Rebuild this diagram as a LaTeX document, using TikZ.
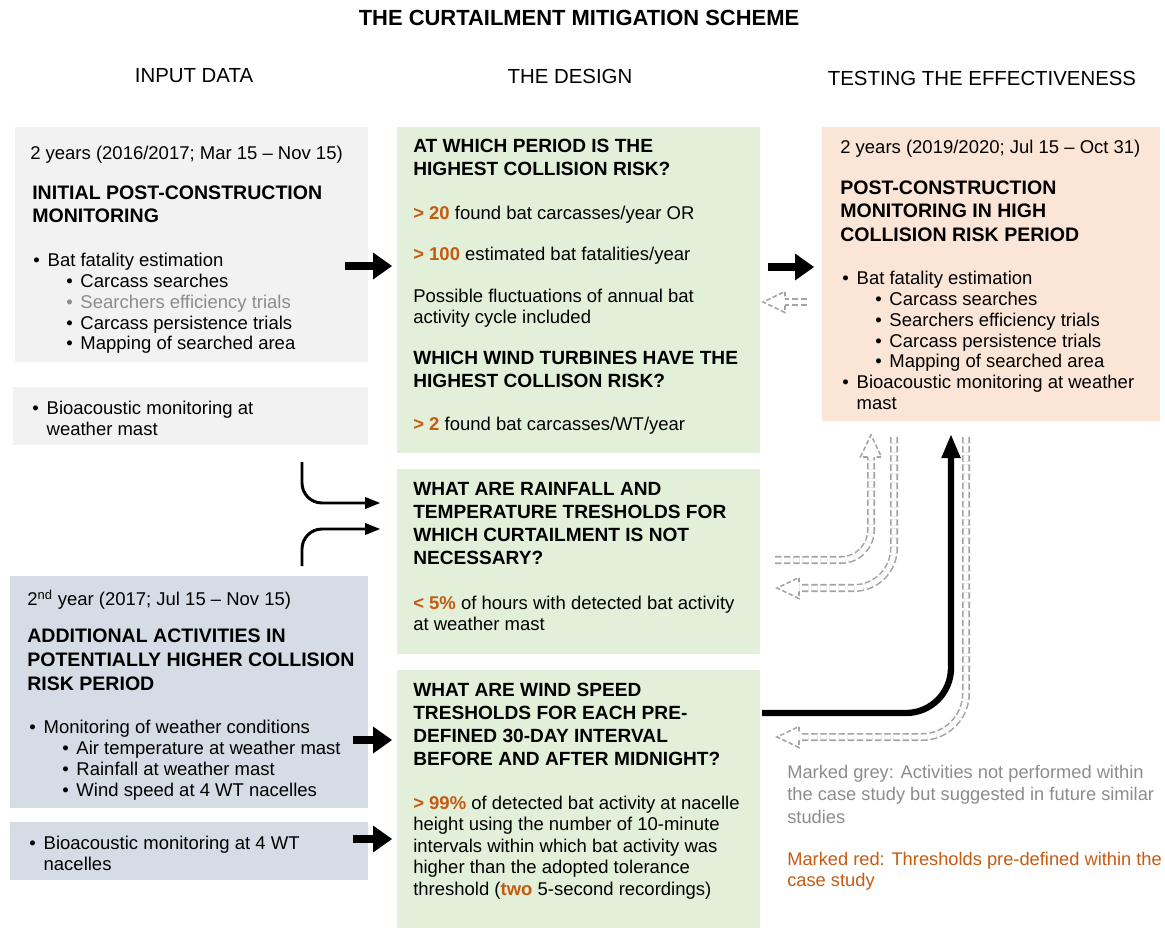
\documentclass[tikz,border=0pt]{standalone}
\usepackage{fontspec}
\setmainfont{Liberation Sans}
\usepackage{xcolor}
\usetikzlibrary{positioning,arrows.meta,fit}

\definecolor{panelgrey}{HTML}{F2F2F2}
\definecolor{panelslate}{HTML}{D6DCE5}
\definecolor{panelgreen}{HTML}{E2F0D9}
\definecolor{panelpeach}{HTML}{FBE5D6}
\definecolor{thresh}{HTML}{C55A11}
\definecolor{notdone}{HTML}{8C8C8C}
\definecolor{ghostgrey}{HTML}{A3A3A3}

% bullets: first and second level
\newcommand{\itm}{\makebox[0.36cm][l]{\textbullet}}
\newcommand{\sitm}{\hspace*{0.83cm}\makebox[0.35cm][l]{\textbullet}}
\newcommand{\hang}{\hspace*{0.36cm}}
\newcommand{\thr}[1]{\textcolor{thresh}{\textbf{#1}}}

\tikzset{
  ghosthead/.pic={
    \draw[ghostgrey, line width=1.1pt, dash pattern=on 3.2pt off 1.8pt, line join=miter]
      (-22,-3.4) -- (-22,-10.5) -- (0,0) -- (-22,10.5) -- (-22,3.4);
  }
}

\begin{document}
\begin{tikzpicture}[x=0.025cm, y=-0.025cm,
  panel/.style={inner sep=0pt, outer sep=0pt, draw=none},
  inputpanel/.style={panel, fill=panelgrey},
  extrapanel/.style={panel, fill=panelslate},
  designpanel/.style={panel, fill=panelgreen},
  testpanel/.style={panel, fill=panelpeach},
  body/.style={anchor=north west, inner sep=0pt, align=left, font=\fontsize{13.15}{14.9}\selectfont},
  caps/.style={body, font=\fontsize{13.9}{16.4}\selectfont\bfseries},
  dcaps/.style={body, font=\fontsize{13.6}{16.4}\selectfont\bfseries},
  colhead/.style={inner sep=0pt, font=\fontsize{14.5}{17}\selectfont},
  bigarrow/.style={line width=5pt, -{Triangle[length=13.5pt, width=19.2pt, line width=0pt]}},
  bendarrow/.style={line width=2.1pt, rounded corners=0.5cm, -{Triangle[length=10.5pt, width=8.5pt, line width=0pt]}},
  ghost/.style={draw=ghostgrey, line width=1.1pt, double=white, double distance=3.5pt,
    dash pattern=on 4.5pt off 2pt, rounded corners=#1},
  ghost/.default=0pt]
\useasboundingbox (0,0) rectangle (1165,928);

% Title and column heads
\node[inner sep=0pt, font=\fontsize{15.6}{18}\selectfont\bfseries] (title) at (579,18)
  {THE CURTAILMENT MITIGATION SCHEME};
\node[colhead] (hinput) at (194,76) {INPUT DATA};
\node[colhead] (hdesign) at (570,76) {THE DESIGN};
\node[colhead] (htest) at (982,78) {TESTING THE EFFECTIVENESS};

% Panels
\node[inputpanel, fit={(15,127) (368,362)}] (input1) {};
\node[inputpanel, fit={(13,387) (368,445)}] (input2) {};
\node[extrapanel, fit={(10,576) (368,808)}] (extra1) {};
\node[extrapanel, fit={(10,822) (368,880)}] (extra2) {};
\node[designpanel, fit={(397,127) (760,453)}] (design1) {};
\node[designpanel, fit={(397,469) (760,654)}] (design2) {};
\node[designpanel, fit={(397,670) (760,928)}] (design3) {};
\node[testpanel, fit={(822,127) (1160,421)}] (testing) {};

% Input data
\node[body] (in1date) at (30,145.5) {2 years (2016/2017; Mar 15 – Nov 15)};
\node[caps] (in1head) at (32,186) {INITIAL POST-CONSTRUCTION\\MONITORING};
\node[body] (in1list) at (33,252.5) {\itm Bat fatality estimation\\
  \sitm Carcass searches\\
  \textcolor{notdone}{\sitm Searchers efficiency trials}\\
  \sitm Carcass persistence trials\\
  \sitm Mapping of searched area};
\node[body] (in2list) at (32,400.5) {\itm Bioacoustic monitoring at\\\hang weather mast};

\node[body] (ex1date) at (27,589.5) {2\textsuperscript{nd} year (2017; Jul 15 – Nov 15)};
\node[caps, font=\fontsize{13.9}{17}\selectfont\bfseries] (ex1head) at (27,629)
  {ADDITIONAL ACTIVITIES IN\\POTENTIALLY HIGHER COLLISION\\RISK PERIOD};
\node[body] (ex1list) at (29,719.5) {\itm Monitoring of weather conditions\\
  \sitm Air temperature at weather mast\\
  \sitm Rainfall at weather mast\\
  \sitm Wind speed at 4 WT nacelles};
\node[body] (ex2list) at (29,835.5) {\itm Bioacoustic monitoring at 4 WT\\\hang nacelles};

% The design
\node[dcaps] (d1q1) at (413,139) {AT WHICH PERIOD IS THE\\HIGHEST COLLISION RISK?};
\node[body] (d1a) at (413,205.5) {\thr{> 20} found bat carcasses/year OR};
\node[body] (d1b) at (413,246.5) {\thr{> 100} estimated bat fatalities/year};
\node[body] (d1c) at (413,288.5) {Possible fluctuations of annual bat\\activity cycle included};
\node[dcaps] (d1q2) at (413,351) {WHICH WIND TURBINES HAVE THE\\HIGHEST COLLISON RISK?};
\node[body] (d1d) at (413,416.5) {\thr{> 2} found bat carcasses/WT/year};

\node[dcaps] (d2q) at (413,482)
  {WHAT ARE RAINFALL AND\\TEMPERATURE TRESHOLDS FOR\\WHICH CURTAILMENT IS NOT\\NECESSARY?};
\node[body] (d2a) at (413,595.5) {\thr{< 5\%} of hours with detected bat activity\\at weather mast};

\node[dcaps] (d3q) at (413,683)
  {WHAT ARE WIND SPEED\\TRESHOLDS FOR EACH PRE-\\DEFINED 30-DAY INTERVAL\\BEFORE AND AFTER MIDNIGHT?};
\node[body, font=\fontsize{13.15}{15.3}\selectfont] (d3a) at (413,795.5)
  {\thr{> 99\%} of detected bat activity at nacelle\\height using the number of 10-minute\\intervals within which bat activity was\\higher than the adopted tolerance\\threshold (\thr{two} 5-second recordings)};

% Testing the effectiveness
\node[body] (tdate) at (840,139.5) {2 years (2019/2020; Jul 15 – Oct 31)};
\node[caps] (thead) at (840,181) {POST-CONSTRUCTION\\MONITORING IN HIGH\\COLLISION RISK PERIOD};
\node[body] (tlist) at (842,270.5) {\itm Bat fatality estimation\\
  \sitm Carcass searches\\
  \sitm Searchers efficiency trials\\
  \sitm Carcass persistence trials\\
  \sitm Mapping of searched area\\
  \itm Bioacoustic monitoring at weather\\
  \hang mast};

% Legend
\node[body, font=\fontsize{13}{16}\selectfont, text=notdone] (keygrey) at (787,764.5)
  {Marked grey: Activities not performed within\\the case study but suggested in future similar\\studies};
\node[body, font=\fontsize{13}{15.6}\selectfont, text=thresh] (keyred) at (787,851.5)
  {Marked red: Thresholds pre-defined within the\\case study};

% Solid arrows
\coordinate (a1s) at (345,266);  \coordinate (a1e) at (392,266);
\coordinate (a2s) at (768,267);  \coordinate (a2e) at (814,267);
\coordinate (a3s) at (353,740);  \coordinate (a3e) at (392,740);
\coordinate (a4s) at (353,839);  \coordinate (a4e) at (392,839);
\draw[bigarrow] (a1s) -- (a1e);
\draw[bigarrow] (a2s) -- (a2e);
\draw[bigarrow] (a3s) -- (a3e);
\draw[bigarrow] (a4s) -- (a4e);

\coordinate (b1s) at (302,462);  \coordinate (b1e) at (380,503);
\coordinate (b2s) at (302,566);  \coordinate (b2e) at (380,529);
\draw[bendarrow] (b1s) |- (b1e);
\draw[bendarrow] (b2s) |- (b2e);

\coordinate (cs) at (762,713);  \coordinate (ce) at (951,435);
\draw[line width=4.5pt, rounded corners=1.125cm,
  -{Triangle[length=16.4pt, width=14pt, line width=0pt]}] (cs) -| (ce);

% Dashed feedback arrows (not performed)
\coordinate (g0s) at (807,302);  \coordinate (g0e) at (763,302);
\draw[ghost] (g0s) -- ([xshift=0.55cm]g0e);
\pic[rotate=180] at (g0e) {ghosthead};

\coordinate (g1s) at (775,560);  \coordinate (g1e) at (871,435);
\draw[ghost=0.75cm] (g1s) -| ([yshift=-0.55cm]g1e);
\pic[rotate=90] at (g1e) {ghosthead};

\coordinate (g2s) at (894,437);  \coordinate (g2e) at (777,588);
\draw[ghost=1cm] (g2s) |- ([xshift=0.55cm]g2e);
\pic[rotate=180] at (g2e) {ghosthead};

\coordinate (g3s) at (966,437);  \coordinate (g3e) at (777,737);
\draw[ghost=1.1cm] (g3s) |- ([xshift=0.55cm]g3e);
\pic[rotate=180] at (g3e) {ghosthead};
\end{tikzpicture}
\end{document}
